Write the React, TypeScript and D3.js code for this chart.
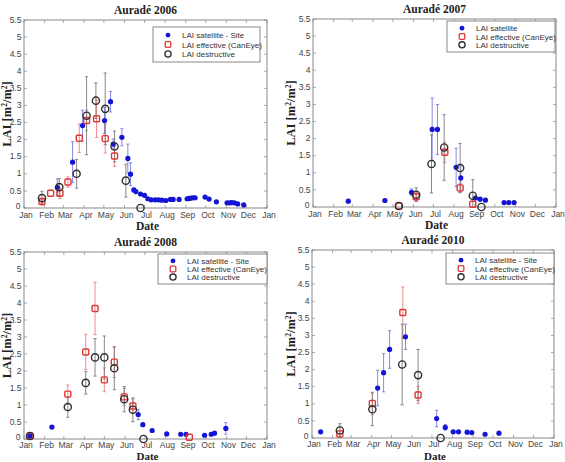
import React from "react";
import * as d3 from "d3";

// [MM-DD, LAI, error half-width (0 = no bar)]
type Pt = [string, number, number];

const sat2006: Pt[] = [
  ["02-20", 0.6, 0.25], ["03-15", 1.34, 0.6], ["03-30", 2.41, 0.45], ["05-02", 2.56, 0.38],
  ["05-11", 3.11, 0.3], ["05-15", 1.87, 0.15], ["05-28", 2.07, 0.25], ["06-06", 1.45, 0.42],
  ["06-10", 0.99, 0.33], ["06-15", 0.53, 0], ["06-18", 0.48, 0], ["06-25", 0.41, 0],
  ["07-01", 0.37, 0], ["07-06", 0.27, 0], ["07-11", 0.24, 0], ["07-17", 0.24, 0],
  ["07-22", 0.24, 0], ["07-27", 0.23, 0], ["08-02", 0.22, 0], ["08-09", 0.25, 0],
  ["08-13", 0.25, 0], ["08-22", 0.25, 0], ["09-03", 0.27, 0], ["09-06", 0.28, 0],
  ["09-09", 0.29, 0], ["09-12", 0.3, 0], ["09-15", 0.3, 0], ["09-30", 0.32, 0],
  ["10-06", 0.26, 0], ["10-17", 0.18, 0], ["11-02", 0.15, 0], ["11-06", 0.15, 0],
  ["11-09", 0.16, 0], ["11-13", 0.15, 0], ["11-18", 0.12, 0], ["11-27", 0.09, 0],
];
const eff2006: Pt[] = [
  ["01-28", 0.19, 0.06], ["02-10", 0.43, 0], ["02-24", 0.43, 0.15], ["03-08", 0.76, 0.15],
  ["03-25", 2.04, 0.42], ["04-05", 2.56, 0.3], ["04-20", 2.61, 0.55], ["05-03", 2.03, 0.42],
  ["05-17", 1.52, 0.3],
];
const des2006: Pt[] = [
  ["01-28", 0.29, 0.2], ["02-23", 0.61, 0.25], ["03-21", 1.0, 0.42], ["04-05", 2.7, 1.14],
  ["04-19", 3.14, 0.52], ["05-03", 2.9, 1.05], ["05-17", 1.8, 0.45], ["06-03", 0.8, 0.48],
  ["06-25", 0.0, 0],
];

const sat2007: Pt[] = [
  ["02-23", 0.17, 0], ["04-19", 0.19, 0], ["05-29", 0.43, 0.1], ["06-29", 2.27, 0.92],
  ["07-07", 2.27, 0.73], ["08-04", 1.16, 0.56], ["08-11", 0.85, 0.4], ["09-02", 0.26, 0],
  ["09-09", 0.23, 0], ["09-17", 0.2, 0], ["10-15", 0.13, 0], ["10-22", 0.13, 0],
  ["10-30", 0.13, 0],
];
const eff2007: Pt[] = [
  ["05-10", 0.03, 0], ["06-05", 0.3, 0.12], ["07-18", 1.6, 0.3], ["08-10", 0.56, 0.12],
  ["08-29", 0.08, 0],
];
const des2007: Pt[] = [
  ["05-10", 0.03, 0], ["06-05", 0.36, 0.2], ["06-28", 1.26, 0.85], ["07-17", 1.74, 0.96],
  ["08-10", 1.14, 0.72], ["08-29", 0.33, 0.47], ["09-11", 0.0, 0],
];

const sat2008: Pt[] = [
  ["01-10", 0.09, 0], ["02-12", 0.35, 0], ["06-21", 0.72, 0.15], ["06-28", 0.42, 0],
  ["07-12", 0.25, 0], ["08-03", 0.15, 0], ["08-24", 0.14, 0], ["09-01", 0.14, 0],
  ["09-29", 0.11, 0], ["10-09", 0.14, 0], ["10-14", 0.17, 0], ["10-31", 0.31, 0.17],
];
const eff2008: Pt[] = [
  ["01-10", 0.09, 0], ["03-07", 1.32, 0.27], ["04-03", 2.56, 0.52], ["04-17", 3.84, 0.77],
  ["05-01", 1.74, 0.35], ["05-16", 2.26, 0.45], ["05-31", 1.24, 0.25], ["06-13", 0.97, 0.2],
  ["09-06", 0.05, 0],
];
const des2008: Pt[] = [
  ["01-10", 0.09, 0], ["03-07", 0.94, 0.3], ["04-03", 1.65, 0.33], ["04-17", 2.4, 0.55],
  ["05-01", 2.4, 0.63], ["05-16", 2.08, 0.63], ["05-31", 1.17, 0.37], ["06-13", 0.86, 0.35],
  ["06-29", 0.0, 0],
];

const sat2010: Pt[] = [
  ["01-14", 0.18, 0], ["04-10", 1.46, 0.52], ["04-19", 1.91, 0.56], ["04-28", 2.59, 0.55],
  ["05-22", 2.96, 0.37], ["07-08", 0.57, 0.24], ["07-21", 0.31, 0.08], ["08-02", 0.18, 0],
  ["08-10", 0.18, 0], ["08-23", 0.17, 0], ["08-30", 0.16, 0], ["09-19", 0.11, 0],
  ["10-10", 0.14, 0],
];
const eff2010: Pt[] = [
  ["02-12", 0.12, 0.08], ["04-02", 1.01, 0.33], ["05-18", 3.67, 0.75], ["06-10", 1.26, 0.25],
];
const des2010: Pt[] = [
  ["02-12", 0.22, 0.2], ["04-02", 0.84, 0.48], ["05-17", 2.15, 1.18], ["06-10", 1.84, 0.75],
  ["07-14", 0.0, 0],
];

const yTicks = d3.range(0, 5.51, 0.5);
const legendLabels = ["LAI effective (CanEye)", "LAI destructive"];

const parse = d3.timeParse("%Y-%m-%d");
const fmtMonth = d3.timeFormat("%b");

const BLUE = "#1414d6";
const BLUE_ERR = "#7a7ae6";
const RED = "#e03636";
const RED_ERR = "#ec8080";
const BLACK = "#2e2e2e";
const BLACK_ERR = "#7a7a7a";
const serif = "'Liberation Serif', 'DejaVu Serif', serif";
const sans = "'Liberation Sans', Arial, sans-serif";

function Panel({ year, sat, eff, des, satLabel, box, legend, ylabX }) {
  const [left, top, right, bottom] = box;
  const x = d3.scaleTime()
    .domain([new Date(year, 0, 1), new Date(year + 1, 0, 1)])
    .range([left, right]);
  const y = d3.scaleLinear().domain([0, 5.5]).range([bottom, top]);
  const months = d3.timeMonth.range(new Date(year, 0, 1), new Date(year + 1, 0, 2));
  const px = (d: Pt) => x(parse(`${year}-${d[0]}`) as Date);

  const errBars = (data: Pt[], color: string) =>
    data.filter(d => d[2] > 0).map((d, i) => {
      const cx = px(d);
      const y1 = y(Math.max(0, d[1] - d[2]));
      const y2 = y(d[1] + d[2]);
      return (
        <g key={i} stroke={color} strokeWidth={0.9}>
          <line x1={cx} x2={cx} y1={y1} y2={y2} />
          <line x1={cx - 1.6} x2={cx + 1.6} y1={y1} y2={y1} />
          <line x1={cx - 1.6} x2={cx + 1.6} y1={y2} y2={y2} />
        </g>
      );
    });

  const [lx, ly, lw, lh] = legend;
  const rows = [ly + lh * 0.23, ly + lh * 0.5, ly + lh * 0.77];
  const mx = lx + 15;
  const tx = lx + 29;
  const low = bottom > 400;
  const tickY = low ? bottom + 9 : bottom + 10;
  const dateY = low ? 460 : bottom + 22;

  return (
    <g>
      <text x={(left + right) / 2} y={top - 6} textAnchor="middle" fontFamily={serif}
        fontWeight="bold" fontSize={11.5} fill="#222">{`Auradé ${year}`}</text>
      <rect x={left} y={top} width={right - left} height={bottom - top} fill="white"
        stroke="#7d7d7d" strokeWidth={0.9} />
      {yTicks.map(t => (
        <g key={t}>
          <line x1={left} x2={left + 3} y1={y(t)} y2={y(t)} stroke="#888" strokeWidth={0.7} />
          <line x1={right - 3} x2={right} y1={y(t)} y2={y(t)} stroke="#888" strokeWidth={0.7} />
          <text x={t === 0 ? left - 3.5 : left - 2.5} y={y(t) + (t === 0 ? 1.2 : 2.6)} textAnchor="end"
            fontFamily={sans} fontSize={8.5} fill="#444">{String(+t.toFixed(1))}</text>
        </g>
      ))}
      {months.map((m, i) => (
        <g key={i}>
          <line x1={x(m)} x2={x(m)} y1={bottom} y2={bottom - 3} stroke="#888" strokeWidth={0.7} />
          <line x1={x(m)} x2={x(m)} y1={top} y2={top + 3} stroke="#888" strokeWidth={0.7} />
          <text x={x(m) + 2} y={tickY} textAnchor="middle" fontFamily={sans} fontSize={8.5}
            fill="#444">{fmtMonth(m)}</text>
        </g>
      ))}
      <text x={(left + right) / 2 + 2} y={dateY} textAnchor="middle" fontFamily={serif}
        fontWeight="bold" fontSize={low ? 11 : 11.5} fill="#222">Date</text>
      <text transform={`translate(${ylabX},${(top + bottom) / 2}) rotate(-90)`} textAnchor="middle"
        fontFamily={serif} fontWeight="bold" fontSize={12.5} fill="#222">
        LAI [m<tspan fontSize={7.5} dy={-4}>2</tspan><tspan dy={4}>/m</tspan>
        <tspan fontSize={7.5} dy={-4}>2</tspan><tspan dy={4}>]</tspan>
      </text>

      {errBars(sat, BLUE_ERR)}
      {errBars(eff, RED_ERR)}
      {errBars(des, BLACK_ERR)}
      {sat.map((d, i) => <circle key={i} cx={px(d)} cy={y(d[1])} r={2.6} fill={BLUE} />)}
      {eff.map((d, i) => (
        <rect key={i} x={px(d) - 3} y={y(d[1]) - 3} width={6} height={6} rx={1}
          fill="none" stroke={RED} strokeWidth={1.4} />
      ))}
      {des.map((d, i) => (
        <circle key={i} cx={px(d)} cy={y(d[1])} r={3.6} fill="none" stroke={BLACK} strokeWidth={1.4} />
      ))}

      <rect x={lx} y={ly} width={lw} height={lh} fill="white" stroke="#7d7d7d" strokeWidth={0.9} />
      <circle cx={mx} cy={rows[0]} r={2.4} fill={BLUE} />
      <rect x={mx - 2.8} y={rows[1] - 2.8} width={5.6} height={5.6} rx={1} fill="none" stroke={RED} strokeWidth={1.3} />
      <circle cx={mx} cy={rows[2]} r={3.1} fill="none" stroke={BLACK} strokeWidth={1.3} />
      {[satLabel, ...legendLabels].map((t, i) => (
        <text key={i} x={tx} y={rows[i] + 3} fontFamily={sans} fontSize={8} fill="#333">{t}</text>
      ))}
    </g>
  );
}

export default function App() {
  return (
    <svg width={565} height={462} style={{ position: "absolute", left: 0, top: 0, background: "white" }}>
      <Panel year={2006} sat={sat2006} eff={eff2006} des={des2006} satLabel="LAI satellite - Site"
        box={[24, 20, 267, 208]} legend={[153, 27, 107, 35]} ylabX={10.5} />
      <Panel year={2007} sat={sat2007} eff={eff2007} des={des2007} satLabel="LAI satellite"
        box={[313, 19, 556, 207]} legend={[447, 21, 108, 31]} ylabX={295} />
      <Panel year={2008} sat={sat2008} eff={eff2008} des={des2008} satLabel="LAI satellite - Site"
        box={[24, 252, 267, 439]} legend={[158, 254, 109, 30]} ylabX={10.5} />
      <Panel year={2010} sat={sat2010} eff={eff2010} des={des2010} satLabel="LAI satellite - Site"
        box={[312, 250, 554, 438]} legend={[446, 253, 108, 31]} ylabX={295} />
    </svg>
  );
}
